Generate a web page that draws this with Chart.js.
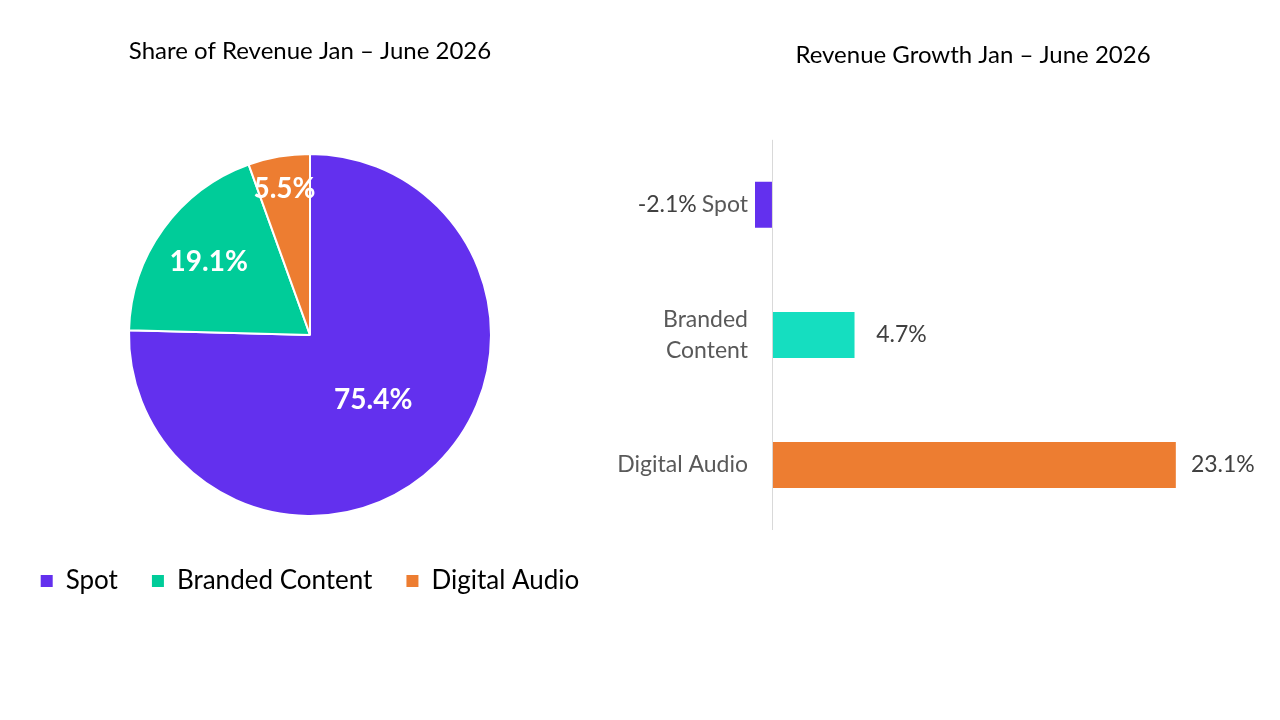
<!DOCTYPE html>
<html>
<head>
<meta charset="utf-8">
<script src="https://cdn.jsdelivr.net/npm/chart.js@4.4.1/dist/chart.umd.min.js"></script>
<style>
  html, body { margin:0; padding:0; background:#fff; width:1280px; height:720px; overflow:hidden; position:relative; }
  .box { position:absolute; top:0; height:720px; }
  #leftBox { left:0; width:620px; }
  #rightBox { left:600px; width:746px; }
</style>
</head>
<body>
<div class="box" id="leftBox"><canvas id="pie"></canvas></div>
<div class="box" id="rightBox"><canvas id="bar"></canvas></div>
<script>
// ---- data ----
const categories = ['Spot', 'Branded Content', 'Digital Audio'];
const shareValues = [75.4, 19.1, 5.5];
const growthValues = [-2.1, 4.7, 23.1];
const pieTitle = 'Share of Revenue Jan \u2013 June 2026';
const barTitle = 'Revenue Growth Jan \u2013 June 2026';

// ---- styles ----
const FONT = 'Lato, "Open Sans", sans-serif';
const pieColors = ['#6330EE', '#00CC99', '#ED7D31'];
const barColors = ['#6330EE', '#15DEC0', '#ED7D31'];
const pieLabelFrac = [0.5, 0.69, 0.82];

const pieLabelPlugin = {
  id: 'pieLabels',
  afterDatasetsDraw(chart) {
    const ctx = chart.ctx;
    const meta = chart.getDatasetMeta(0);
    ctx.save();
    ctx.fillStyle = '#ffffff';
    ctx.font = 'bold 28px ' + FONT;
    ctx.textAlign = 'center';
    ctx.textBaseline = 'middle';
    meta.data.forEach((arc, i) => {
      const p = arc.getProps(['x','y','startAngle','endAngle','outerRadius'], true);
      const mid = (p.startAngle + p.endAngle) / 2;
      const r = p.outerRadius * pieLabelFrac[i];
      ctx.fillText(shareValues[i].toFixed(1) + '%', p.x + Math.cos(mid) * r, p.y + Math.sin(mid) * r);
    });
    ctx.restore();
  }
};

new Chart(document.getElementById('pie'), {
  type: 'pie',
  data: {
    labels: categories,
    datasets: [{
      data: shareValues,
      backgroundColor: pieColors,
      borderColor: '#ffffff',
      borderWidth: 2,
      radius: 181
    }]
  },
  options: {
    responsive: true,
    maintainAspectRatio: false,
    animation: false,
    layout: { padding: { bottom: 116 } },
    plugins: {
      tooltip: { enabled: false },
      title: {
        display: true,
        text: pieTitle,
        color: '#000000',
        font: { family: FONT, size: 24, weight: 'normal' },
        padding: { top: 37, bottom: 70 }
      },
      legend: {
        position: 'bottom',
        labels: {
          color: '#595959',
          font: { family: FONT, size: 26 },
          boxWidth: 12,
          boxHeight: 12,
          padding: 34,
          generateLabels(chart) {
            return chart.data.labels.map((l, i) => ({
              text: l,
              fillStyle: pieColors[i],
              strokeStyle: pieColors[i],
              lineWidth: 0,
              hidden: false,
              index: i
            }));
          }
        }
      }
    }
  },
  plugins: [pieLabelPlugin]
});

const barLabelPlugin = {
  id: 'barLabels',
  afterDatasetsDraw(chart) {
    const ctx = chart.ctx;
    const meta = chart.getDatasetMeta(0);
    const area = chart.chartArea;
    ctx.save();
    ctx.fillStyle = '#404040';
    ctx.textBaseline = 'middle';
    meta.data.forEach((bar, i) => {
      const v = growthValues[i];
      const txt = v.toFixed(1) + '%';
      if (v >= 0) {
        ctx.font = '23px ' + FONT;
        ctx.textAlign = 'center';
        ctx.fillText(txt, bar.x + 47, bar.y);
      } else {
        ctx.font = '23px ' + FONT;
        const w = ctx.measureText(categories[i]).width;
        ctx.textAlign = 'right';
        ctx.fillText(txt, area.left - 7 - w - 5, bar.y);
      }
    });
    ctx.restore();
  }
};

new Chart(document.getElementById('bar'), {
  type: 'bar',
  data: {
    labels: categories,
    datasets: [{
      data: growthValues,
      backgroundColor: barColors,
      borderWidth: 0,
      barPercentage: 0.354,
      categoryPercentage: 1.0
    }]
  },
  options: {
    indexAxis: 'y',
    responsive: true,
    maintainAspectRatio: false,
    animation: false,
    layout: { padding: { left: 0, right: 0, bottom: 190 } },
    plugins: {
      tooltip: { enabled: false },
      legend: { display: false },
      title: {
        display: true,
        text: barTitle,
        color: '#000000',
        font: { family: FONT, size: 24, weight: 'normal' },
        padding: { top: 41, bottom: 70 }
      }
    },
    scales: {
      x: {
        min: -1,
        max: 25,
        ticks: { display: false, stepSize: 1 },
        grid: {
          drawTicks: false,
          color: (c) => (c.tick && c.tick.value === 0 ? '#d9d9d9' : 'rgba(0,0,0,0)'),
          lineWidth: 1
        },
        border: { display: false }
      },
      y: {
        afterFit(scale) { scale.width = 155; },
        grid: { display: false, drawTicks: false },
        border: { display: false },
        ticks: {
          color: '#595959',
          padding: 7,
          font: { family: FONT, size: 23, lineHeight: 1.33 },
          callback(value) {
            const l = categories[value];
            return l.length > 13 ? l.split(' ') : l;
          }
        }
      },
      yRight: {
        type: 'linear',
        position: 'right',
        afterFit(scale) { scale.width = 137; },
        ticks: { display: false },
        grid: { display: false, drawTicks: false },
        border: { display: false }
      }
    }
  },
  plugins: [barLabelPlugin]
});
</script>
</body>
</html>
